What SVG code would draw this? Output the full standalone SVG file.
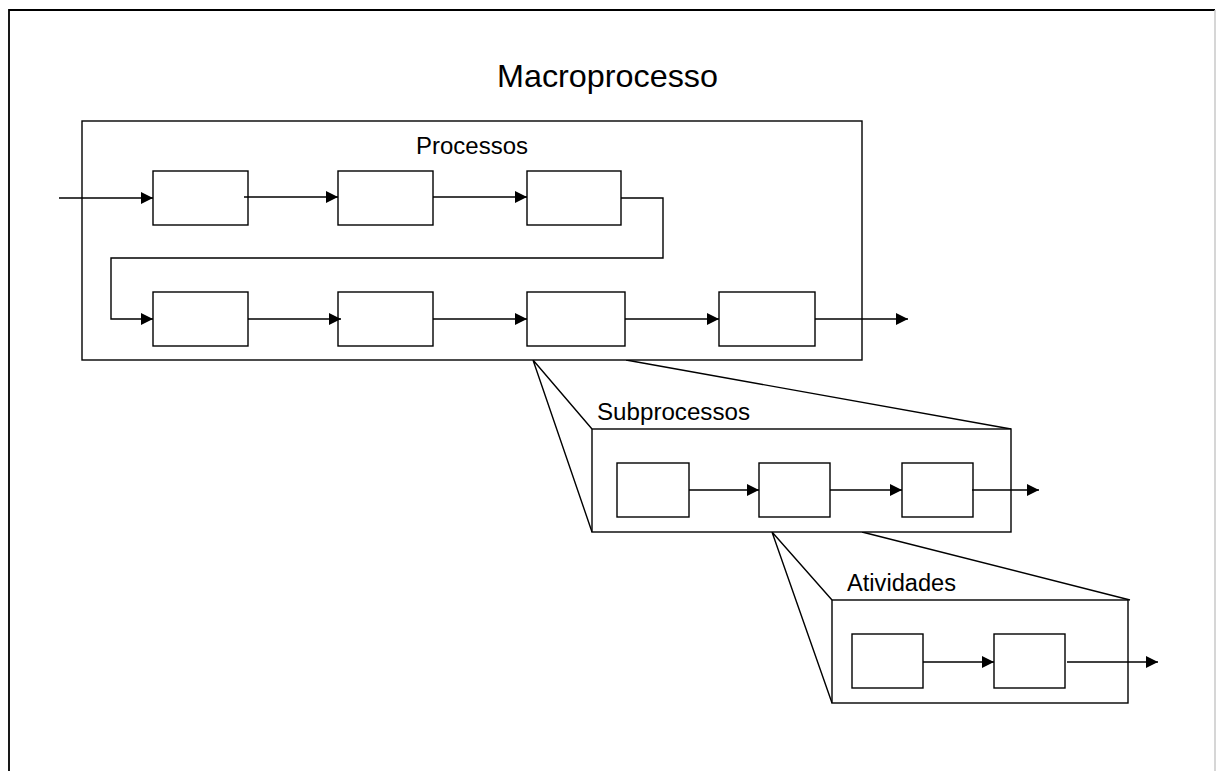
<svg xmlns="http://www.w3.org/2000/svg" width="1216" height="771" viewBox="0 0 1216 771">
<style>
.box{fill:#fff;stroke:#000;stroke-width:1.4}
.ln{fill:none;stroke:#000;stroke-width:1.4}
.arr{fill:none;stroke:#000;stroke-width:1.4;marker-end:url(#ah)}
.t{font-family:"Liberation Sans",Arial,sans-serif;fill:#000}
</style>
<defs>
<marker id="ah" markerUnits="userSpaceOnUse" markerWidth="13" markerHeight="12" refX="12" refY="6" orient="auto"><path d="M0,0 L12,6 L0,12 z" fill="#000"/></marker>
</defs>
<rect width="1216" height="771" fill="#fff"/>
<g id="frame">
<path d="M9,771 V10 H1215" fill="none" stroke="#000" stroke-width="1.8"/>
<path d="M1215,10 V771" fill="none" stroke="#c8c8c8" stroke-width="1.5"/>
</g>
<text id="title" class="t" x="497" y="87" font-size="30.5" textLength="221" lengthAdjust="spacingAndGlyphs">Macroprocesso</text>
<g id="zoom-lines">
<path class="ln" d="M533,360 L592,429 M533,360 L592,532 M626,360 L1011,429"/>
<path class="ln" d="M772,532 L832,600 M772,532 L832,703 M862,532 L1130,600"/>
</g>
<g id="processos">
<rect class="box" x="82" y="121" width="780" height="239"/>
<text class="t" x="416" y="154" font-size="23.5" textLength="112" lengthAdjust="spacingAndGlyphs">Processos</text>
</g>
<g id="p1"><rect class="box" x="153" y="171" width="95" height="54"/></g>
<g id="p2"><rect class="box" x="338" y="171" width="95" height="54"/></g>
<g id="p3"><rect class="box" x="527" y="171" width="94" height="54"/></g>
<g id="p4"><rect class="box" x="153" y="292" width="95" height="54"/></g>
<g id="p5"><rect class="box" x="338" y="292" width="95" height="54"/></g>
<g id="p6"><rect class="box" x="527" y="292" width="98" height="54"/></g>
<g id="p7"><rect class="box" x="719" y="292" width="96" height="54"/></g>
<g id="subprocessos">
<rect class="box" x="592" y="429" width="419" height="103"/>
<text class="t" x="597" y="420" font-size="23.5" textLength="153" lengthAdjust="spacingAndGlyphs">Subprocessos</text>
</g>
<g id="s1"><rect class="box" x="617" y="463" width="72" height="54"/></g>
<g id="s2"><rect class="box" x="759" y="463" width="71" height="54"/></g>
<g id="s3"><rect class="box" x="902" y="463" width="71" height="54"/></g>
<g id="atividades">
<rect class="box" x="832" y="600" width="296" height="103"/>
<text class="t" x="847" y="591" font-size="23.5" textLength="109" lengthAdjust="spacingAndGlyphs">Atividades</text>
</g>
<g id="a1"><rect class="box" x="852" y="634" width="71" height="54"/></g>
<g id="a2"><rect class="box" x="994" y="634" width="71" height="54"/></g>
<g id="connectors">
<path class="arr" d="M59,198 H153"/>
<path class="arr" d="M244,197 H338"/>
<path class="arr" d="M433,197 H527"/>
<path class="arr" d="M621,198 H663 V258 H111 V319 H153"/>
<path class="arr" d="M248,319 H341"/>
<path class="arr" d="M433,319 H527"/>
<path class="arr" d="M625,319 H719"/>
<path class="arr" d="M815,319 H908"/>
<path class="arr" d="M689,490 H759"/>
<path class="arr" d="M830,490 H902"/>
<path class="arr" d="M972,490 H1039"/>
<path class="arr" d="M923,662 H994"/>
<path class="arr" d="M1067,662 H1158"/>
</g>
</svg>
